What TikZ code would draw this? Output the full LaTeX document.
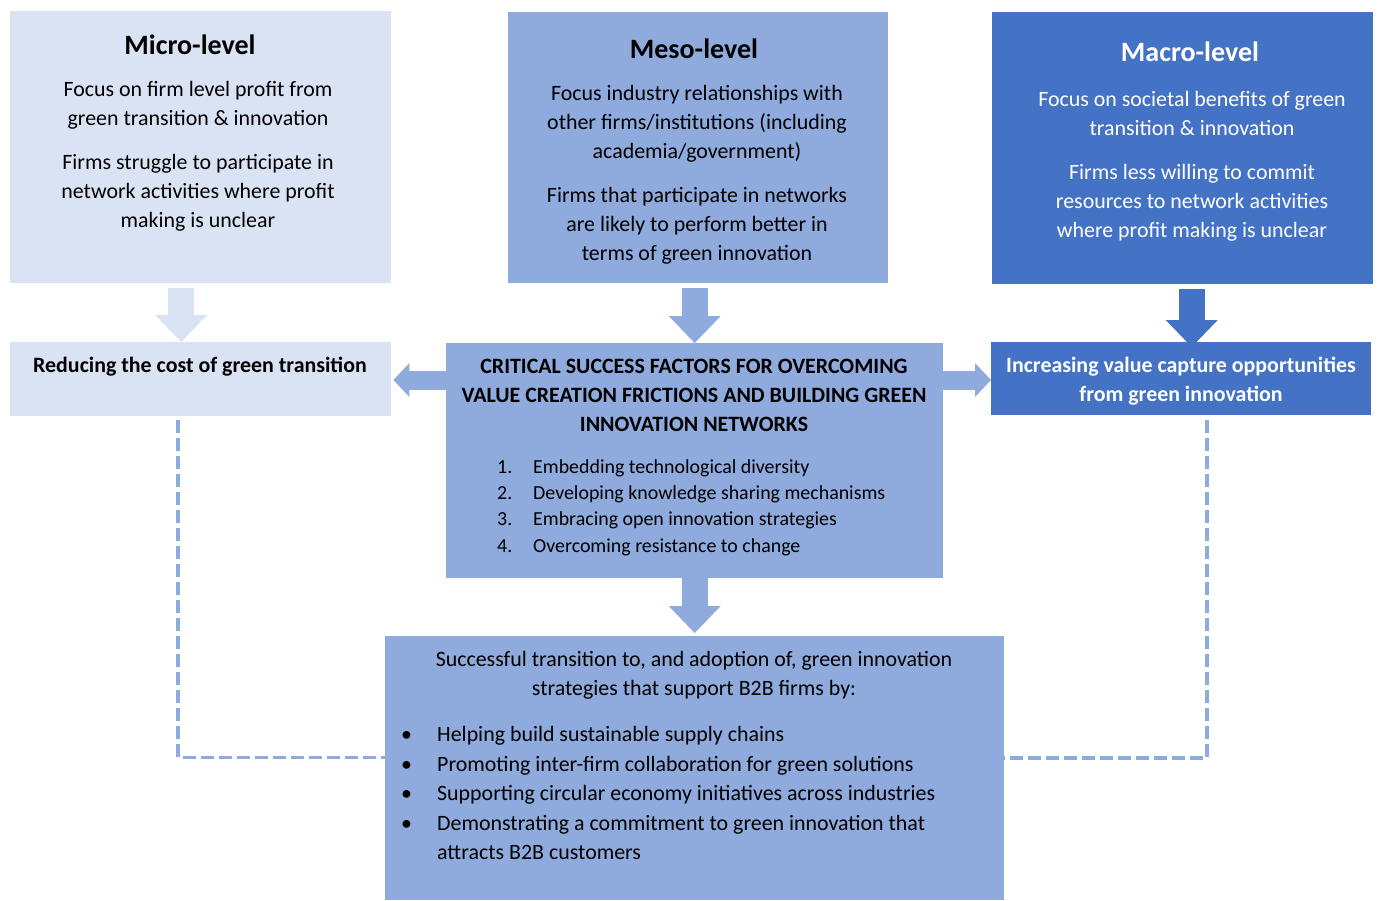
\documentclass[tikz,border=0pt]{standalone}
\usepackage{fontspec}
\setmainfont{Carlito}
\usetikzlibrary{arrows.meta,calc}
\definecolor{clight}{HTML}{DAE3F3}
\definecolor{cmid}{HTML}{8FAADC}
\definecolor{cdark}{HTML}{4472C4}
\begin{document}
\begin{tikzpicture}[x=1pt,y=-1pt,
  box/.style={fill=#1, draw=none, inner sep=0pt, anchor=north west},
  body/.style={font=\fontsize{21.9}{29}\selectfont, align=center, inner sep=0pt},
  bodyb/.style={font=\fontsize{21.9}{29}\selectfont\bfseries, align=center, inner sep=0pt},
  ttl/.style={font=\fontsize{28}{30}\selectfont\bfseries, inner sep=0pt},
  vblk/.style={line width=26pt, color=#1, -{Triangle[width=52pt,length=27pt,line width=0pt]}},
  hblk/.style={line width=19pt, color=cmid, -{Triangle[width=34pt,length=16pt,line width=0pt]}},
  dashlink/.style={draw=cmid, line width=3.5pt, dash pattern=on 13pt off 5pt}]
\useasboundingbox (0,0) rectangle (1378,900);
% boxes
\node[box=clight, minimum width=381pt, minimum height=272pt] (micro) at (10,11) {};
\node[box=cmid, minimum width=380pt, minimum height=271pt] (meso) at (508,12) {};
\node[box=cdark, minimum width=381pt, minimum height=272pt] (macro) at (992,12) {};
\node[box=clight, minimum width=381pt, minimum height=74pt] (reduce) at (10,342) {};
\node[box=cmid, minimum width=497pt, minimum height=235pt] (csf) at (446,343) {};
\node[box=cdark, minimum width=380pt, minimum height=73pt] (increase) at (991,342) {};
\node[box=cmid, minimum width=619pt, minimum height=264pt] (result) at (385,636) {};
% micro texts
\node[ttl] (microT) at (190,45) {Micro-level};
\node[body] (microB1) at (198,105.5) {Focus on firm level profit from\\green transition \& innovation};
\node[body] (microB2) at (198,192.5) {Firms struggle to participate in\\network activities where profit\\making is unclear};
% meso texts
\node[ttl] (mesoT) at (694,49) {Meso-level};
\node[body] (mesoB1) at (697,124) {Focus industry relationships with\\other firms/institutions (including\\academia/government)};
\node[body] (mesoB2) at (697,226) {Firms that participate in networks\\are likely to perform better in\\terms of green innovation};
% macro texts
\node[ttl, text=white] (macroT) at (1190,52) {Macro-level};
\node[body, text=white] (macroB1) at (1192,113.5) {Focus on societal benefits of green\\transition \& innovation};
\node[body, text=white] (macroB2) at (1192,202.5) {Firms less willing to commit\\resources to network activities\\where profit making is unclear};
% second row texts
\node[bodyb] (reduceT) at (200,367) {Reducing the cost of green transition};
\node[bodyb] (csfT) at (694,395) {CRITICAL SUCCESS FACTORS FOR OVERCOMING\\VALUE CREATION FRICTIONS AND BUILDING GREEN\\INNOVATION NETWORKS};
\node[font=\fontsize{19.9}{26.3}\selectfont, align=left, inner sep=0pt, anchor=west] (csfL) at (497,507.5)
 {\makebox[36pt][l]{1.}Embedding technological diversity\\
  \makebox[36pt][l]{2.}Developing knowledge sharing mechanisms\\
  \makebox[36pt][l]{3.}Embracing open innovation strategies\\
  \makebox[36pt][l]{4.}Overcoming resistance to change};
\node[bodyb, text=white] (increaseT) at (1181,381.5) {Increasing value capture opportunities\\from green innovation};
% result texts
\node[body] (resultT) at (694,675.5) {Successful transition to, and adoption of, green innovation\\strategies that support B2B firms by:};
\node[font=\fontsize{21.9}{29.5}\selectfont, align=left, inner sep=0pt, anchor=west] (resultL) at (401,793)
 {\makebox[36pt][l]{•}Helping build sustainable supply chains\\
  \makebox[36pt][l]{•}Promoting inter-firm collaboration for green solutions\\
  \makebox[36pt][l]{•}Supporting circular economy initiatives across industries\\
  \makebox[36pt][l]{•}Demonstrating a commitment to green innovation that\\
  \hspace*{36pt}attracts B2B customers};
% block arrows
\draw[vblk=clight] ([xshift=-19.5pt,yshift=-5pt]micro.south) -- ([xshift=-19.5pt]reduce.north);
\draw[vblk=cmid] ([yshift=-5pt]meso.south -| csf.north) -- (csf.north);
\draw[vblk=cdark] ([xshift=9pt,yshift=-5pt]macro.south) -- ([xshift=9pt,yshift=-5pt]macro.south |- increase.north);
\draw[vblk=cmid] (csf.south) -- ([yshift=3pt]result.north);
\draw[hblk] ([yshift=-37pt]csf.north west) -- ([xshift=2pt,yshift=-38pt]reduce.north east);
\draw[hblk] ([yshift=-37pt]csf.north east) -- ([yshift=-38pt]increase.north west);
% dashed links
\draw[dashlink] ([xshift=-22.5pt,yshift=-4pt]reduce.south) |- ([yshift=10.5pt]result.west);
\draw[dashlink] ([xshift=26pt,yshift=-5pt]increase.south) |- ([yshift=10pt]result.east);
\end{tikzpicture}
\end{document}
